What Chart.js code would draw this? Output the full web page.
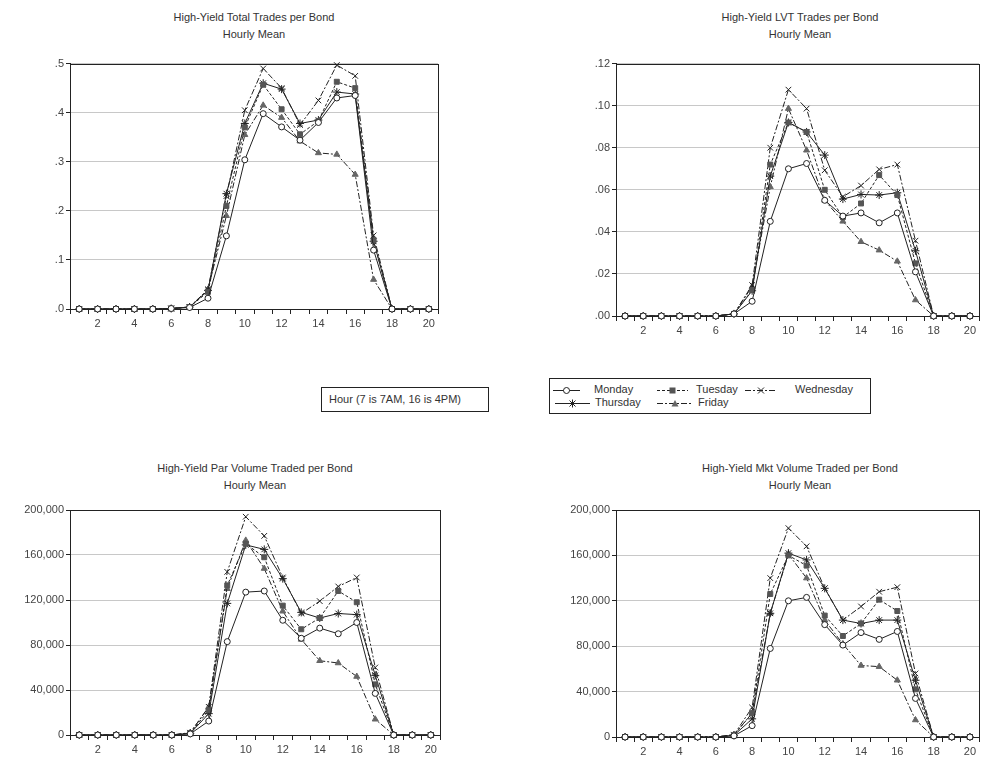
<!DOCTYPE html>
<html>
<head>
<meta charset="utf-8">
<script src="https://cdn.jsdelivr.net/npm/chart.js@4.4.1/dist/chart.umd.min.js"></script>
<style>
    body { margin: 0; width: 984px; height: 762px; background: #fff; position: relative; overflow: hidden; font-family: "Liberation Sans", Arial, sans-serif; }
    canvas.panel { position: absolute; }
    .title { position: absolute; width: 400px; text-align: center; font-size: 11px; line-height: 17px; color: #333; }
    .hourbox { position: absolute; left: 321px; top: 387px; width: 166px; height: 23px; border: 1px solid #222; font-size: 11px; line-height: 23px; color: #333; padding-left: 7px; box-sizing: border-box; width: 168px; height: 25px; }
    .legend { position: absolute; left: 549px; top: 378px; width: 322px; height: 36px; border: 1px solid #222; box-sizing: border-box; }
    .legend .item { position: absolute; font-size: 11px; color: #333; line-height: 13px; }
    .legend svg { position: absolute; }
</style>
</head>
<body>
<div class="title" style="left:54px;top:9px">High-Yield Total Trades per Bond<br>Hourly Mean</div>
<div class="title" style="left:600px;top:9px">High-Yield LVT Trades per Bond<br>Hourly Mean</div>
<div class="title" style="left:55px;top:460px">High-Yield Par Volume Traded per Bond<br>Hourly Mean</div>
<div class="title" style="left:600px;top:460px">High-Yield Mkt Volume Traded per Bond<br>Hourly Mean</div>

<canvas class="panel" id="c-total" width="460" height="285" style="left:0;top:55px"></canvas>
<canvas class="panel" id="c-lvt" width="464" height="290" style="left:520px;top:55px"></canvas>
<canvas class="panel" id="c-par" width="460" height="262" style="left:0;top:500px"></canvas>
<canvas class="panel" id="c-mkt" width="464" height="262" style="left:520px;top:500px"></canvas>

<div class="hourbox">Hour (7 is 7AM, 16 is 4PM)</div>
<div class="legend" id="legend"></div>

<script>
// hours on the x axis, only even ones get a label
const hours = ['1', '2', '3', '4', '5', '6', '7', '8', '9', '10', '11', '12', '13', '14', '15', '16', '17', '18', '19', '20'];
const xTickLabels = ['', '2', '', '4', '', '6', '', '8', '', '10', '', '12', '', '14', '', '16', '', '18', '', '20'];
const dayNames = ['Monday', 'Tuesday', 'Wednesday', 'Thursday', 'Friday'];

// total trades per bond
const totalMon = [0, 0, 0, 0, 0, 0.001, 0.003, 0.022, 0.149, 0.304, 0.398, 0.371, 0.344, 0.38, 0.43, 0.435, 0.12, 0, 0, 0];
const totalTue = [0, 0, 0, 0, 0, 0.001, 0.004, 0.035, 0.21, 0.37, 0.457, 0.407, 0.356, 0.383, 0.463, 0.45, 0.14, 0, 0, 0];
const totalWed = [0, 0, 0, 0, 0, 0.001, 0.004, 0.04, 0.23, 0.405, 0.49, 0.45, 0.375, 0.425, 0.497, 0.475, 0.15, 0, 0, 0];
const totalThu = [0, 0, 0, 0, 0, 0.001, 0.004, 0.038, 0.235, 0.378, 0.46, 0.448, 0.378, 0.385, 0.442, 0.438, 0.138, 0, 0, 0];
const totalFri = [0, 0, 0, 0, 0, 0.001, 0.004, 0.04, 0.19, 0.355, 0.415, 0.39, 0.342, 0.318, 0.315, 0.274, 0.06, 0, 0, 0];

// LVT trades per bond
const lvtMon = [0, 0, 0, 0, 0, 0, 0.001, 0.007, 0.045, 0.070, 0.0725, 0.055, 0.0475, 0.049, 0.0443, 0.049, 0.021, 0, 0, 0];
const lvtTue = [0, 0, 0, 0, 0, 0, 0.001, 0.0123, 0.072, 0.092, 0.0875, 0.060, 0.047, 0.0535, 0.067, 0.0575, 0.025, 0, 0, 0];
const lvtWed = [0, 0, 0, 0, 0, 0, 0.001, 0.0147, 0.080, 0.1076, 0.0986, 0.0693, 0.0567, 0.062, 0.0697, 0.072, 0.0358, 0, 0, 0];
const lvtThu = [0, 0, 0, 0, 0, 0, 0.001, 0.012, 0.0665, 0.092, 0.0875, 0.0765, 0.0556, 0.0578, 0.0575, 0.0586, 0.031, 0, 0, 0];
const lvtFri = [0, 0, 0, 0, 0, 0, 0.001, 0.014, 0.0614, 0.0986, 0.0788, 0.055, 0.045, 0.0353, 0.0313, 0.026, 0.0076, 0, 0, 0];

// par volume traded per bond
const parMon = [0, 0, 0, 0, 0, 0, 1000, 12400, 83000, 127000, 128000, 102000, 86000, 95000, 90000, 100000, 37000, 0, 0, 0];
const parTue = [0, 0, 0, 0, 0, 0, 1500, 22000, 133000, 170000, 158000, 115000, 94000, 104000, 128000, 118000, 45000, 0, 0, 0];
const parWed = [0, 0, 0, 0, 0, 0, 2000, 25000, 145000, 194000, 177000, 140000, 108000, 119000, 132000, 140000, 60000, 0, 0, 0];
const parThu = [0, 0, 0, 0, 0, 0, 1500, 19000, 117000, 169000, 165000, 139000, 109000, 104000, 108000, 107000, 53000, 0, 0, 0];
const parFri = [0, 0, 0, 0, 0, 0, 2000, 25000, 130000, 173000, 148000, 110000, 85000, 66000, 64000, 52000, 14000, 0, 0, 0];

// market volume traded per bond
const mktMon = [0, 0, 0, 0, 0, 0, 1000, 10000, 78000, 120000, 123000, 99000, 81000, 92000, 86000, 93000, 34000, 0, 0, 0];
const mktTue = [0, 0, 0, 0, 0, 0, 1500, 21000, 126000, 160000, 151000, 107000, 89000, 100000, 121000, 111000, 42000, 0, 0, 0];
const mktWed = [0, 0, 0, 0, 0, 0, 2000, 26000, 140000, 184000, 168000, 131000, 103000, 115000, 128000, 132000, 56000, 0, 0, 0];
const mktThu = [0, 0, 0, 0, 0, 0, 1500, 16000, 109000, 162000, 156000, 131000, 103000, 100000, 103000, 103000, 50000, 0, 0, 0];
const mktFri = [0, 0, 0, 0, 0, 0, 2000, 21000, 109000, 161000, 140000, 103000, 82000, 63000, 62000, 50000, 15000, 0, 0, 0];

window.hourlyCharts = {
    styles: [
        { dash: [], pointStyle: 'circle', radius: 3, fill: '#fff', stroke: '#222' },
        { dash: [3, 2], pointStyle: 'rect', radius: 3.5, fill: '#555', stroke: '#555' },
        { dash: [6, 2, 2, 2], pointStyle: 'crossRot', radius: 4, fill: '#222', stroke: '#222' },
        { dash: [], pointStyle: 'star', radius: 4, fill: '#222', stroke: '#222' },
        { dash: [6, 2, 2, 2], pointStyle: 'triangle', radius: 3.5, fill: '#666', stroke: '#666' }
    ],

    // black frame round the plot area, like the original
    boxPlugin: {
        id: 'box',
        beforeDatasetsDraw: function(chart) {
            const a = chart.chartArea;
            const ctx = chart.ctx;
            ctx.save();
            ctx.strokeStyle = '#222';
            ctx.lineWidth = 1;
            ctx.strokeRect(Math.round(a.left) + 0.5, Math.round(a.top) + 0.5, Math.round(a.right - a.left), Math.round(a.bottom - a.top));
            ctx.restore();
        }
    },

    init: function() {
        const fmtDec = (d) => (v) => v.toFixed(d).replace(/^0/, '');
        const fmtInt = (v) => v.toLocaleString('en-US');

        this.renderPanel('c-total', [totalMon, totalTue, totalWed, totalThu, totalFri],
            { max: 0.5, step: 0.1, fmt: fmtDec(1), yWidth: 70, xHeight: 31, pad: { top: 7, right: 22 } });
        this.renderPanel('c-lvt', [lvtMon, lvtTue, lvtWed, lvtThu, lvtFri],
            { max: 0.12, step: 0.02, fmt: fmtDec(2), yWidth: 96, xHeight: 29, pad: { top: 8, right: 1 } });
        this.renderPanel('c-par', [parMon, parTue, parWed, parThu, parFri],
            { max: 200000, step: 40000, fmt: fmtInt, yWidth: 70, xHeight: 27, pad: { top: 10, right: 20 } });
        this.renderPanel('c-mkt', [mktMon, mktTue, mktWed, mktThu, mktFri],
            { max: 200000, step: 40000, fmt: fmtInt, yWidth: 96, xHeight: 25, pad: { top: 10, right: 1 } });

        this.renderLegend();
    },

    renderPanel: function(id, series, opt) {
        const datasets = series.map((data, i) => {
            const s = this.styles[i];
            return {
                label: dayNames[i],
                data: data,
                borderColor: '#222',
                borderWidth: 1,
                borderDash: s.dash,
                pointStyle: s.pointStyle,
                pointRadius: s.radius,
                pointBackgroundColor: s.fill,
                pointBorderColor: s.stroke,
                pointBorderWidth: 1,
                tension: 0,
                clip: false
            };
        });

        new Chart(document.getElementById(id), {
            type: 'line',
            data: { labels: hours, datasets: datasets },
            plugins: [this.boxPlugin],
            options: {
                responsive: false,
                animation: false,
                layout: { padding: { top: opt.pad.top, right: opt.pad.right, left: 0, bottom: 0 } },
                plugins: { legend: { display: false }, tooltip: { enabled: false } },
                scales: {
                    x: {
                        type: 'category',
                        offset: true,
                        afterFit: (s) => { s.height = opt.xHeight; },
                        grid: { offset: true, drawOnChartArea: false, drawTicks: true, tickLength: 5, tickColor: '#222' },
                        border: { display: true, color: '#222', width: 1 },
                        ticks: {
                            autoSkip: false, maxRotation: 0, padding: 3,
                            color: '#444', font: { family: 'Liberation Sans', size: 11 },
                            callback: (v, i) => xTickLabels[i]
                        }
                    },
                    y: {
                        min: 0,
                        max: opt.max,
                        afterFit: (s) => { s.width = opt.yWidth; },
                        grid: { color: '#c8c8c8', lineWidth: 1, drawTicks: true, tickLength: 4, tickColor: '#222' },
                        border: { display: true, color: '#222', width: 1 },
                        ticks: {
                            stepSize: opt.step, padding: 2,
                            color: '#444', font: { family: 'Liberation Sans', size: 11 },
                            callback: (v) => opt.fmt(v)
                        }
                    }
                }
            }
        });
    },

    markerSvg: function(s, cx, cy) {
        if (s.pointStyle === 'circle') return `<circle cx="${cx}" cy="${cy}" r="3" fill="#fff" stroke="#222"/>`;
        if (s.pointStyle === 'rect') return `<rect x="${cx - 3}" y="${cy - 3}" width="6" height="6" fill="${s.fill}"/>`;
        if (s.pointStyle === 'triangle') return `<polygon points="${cx},${cy - 3.5} ${cx + 3.5},${cy + 3} ${cx - 3.5},${cy + 3}" fill="${s.fill}"/>`;
        let out = `<path d="M${cx - 3} ${cy - 3}L${cx + 3} ${cy + 3}M${cx + 3} ${cy - 3}L${cx - 3} ${cy + 3}" stroke="#222"/>`;
        if (s.pointStyle === 'star') out += `<path d="M${cx} ${cy - 4}L${cx} ${cy + 4}M${cx - 4} ${cy}L${cx + 4} ${cy}" stroke="#222"/>`;
        return out;
    },

    renderLegend: function() {
        const el = document.getElementById('legend');
        // sample start, sample end, text left, row
        const spots = [[3, 30, 44, 0], [107, 138, 146, 0], [195, 227, 245, 0], [5, 40, 45, 1], [107, 143, 148, 1]];
        let html = '';
        dayNames.forEach((name, i) => {
            const s = this.styles[i];
            const [x0, x1, tx, row] = spots[i];
            const y = row === 0 ? 11 : 24;
            const w = x1 - x0;
            html += `<svg style="left:${x0}px;top:${y - 5}px" width="${w}" height="10">` +
                `<line x1="0" y1="5.5" x2="${w}" y2="5.5" stroke="#222" stroke-width="1" stroke-dasharray="${s.dash.join(',') || 'none'}"/>` +
                this.markerSvg(s, w / 2, 5.5) + `</svg>`;
            html += `<div class="item" style="left:${tx}px;top:${y - 7}px">${name}</div>`;
        });
        el.innerHTML = html;
    }
};

window.hourlyCharts.init();
</script>
</body>
</html>
